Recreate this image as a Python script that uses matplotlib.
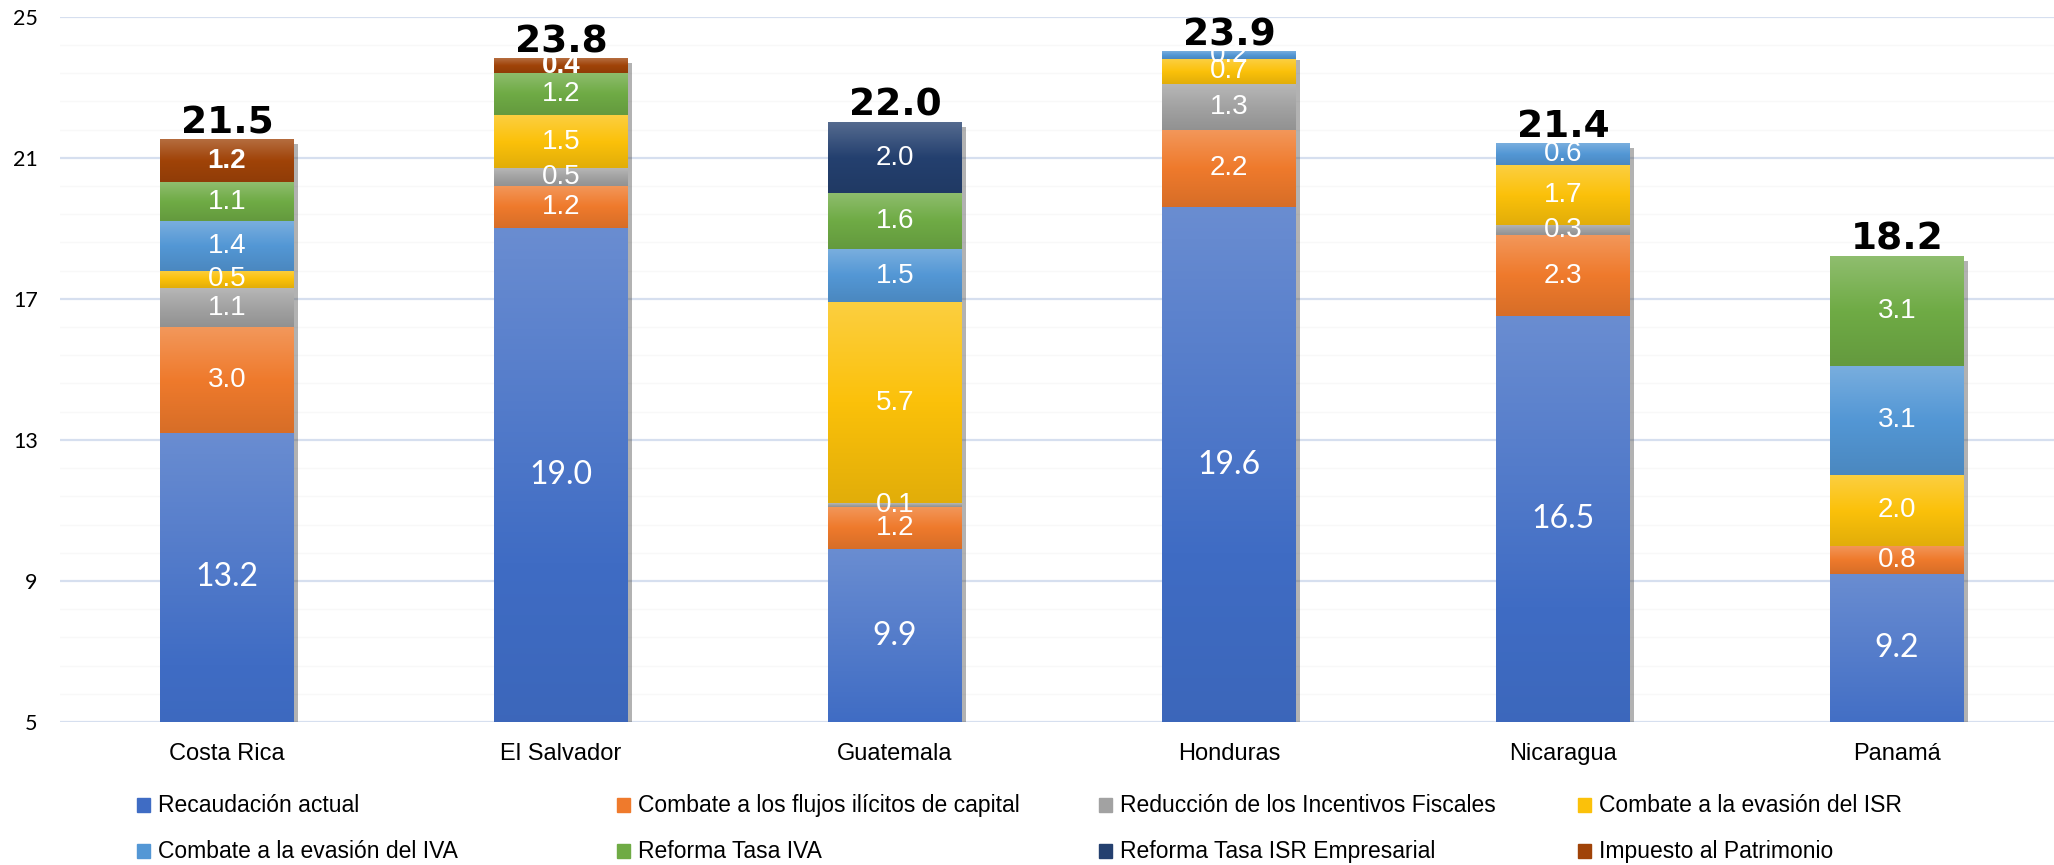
import numpy as np
import matplotlib
matplotlib.use("Agg")
import matplotlib.pyplot as plt
from matplotlib.colors import LinearSegmentedColormap, to_rgb
from matplotlib.patches import Rectangle
import matplotlib.patheffects as pe

# datos (% del PIB)
paises = ["Costa Rica", "El Salvador", "Guatemala", "Honduras", "Nicaragua", "Panamá"]
recaudacion = [13.2, 19.0, 9.9, 19.6, 16.5, 9.2]
flujos_ilicitos = [3.0, 1.2, 1.2, 2.2, 2.3, 0.8]
incentivos = [1.1, 0.5, 0.1, 1.3, 0.3, 0.0]
evasion_isr = [0.5, 1.5, 5.7, 0.7, 1.7, 2.0]
evasion_iva = [1.4, 0.0, 1.5, 0.2, 0.6, 3.1]
tasa_iva = [1.1, 1.2, 1.6, 0.0, 0.0, 3.1]
isr_empresarial = [0.0, 0.0, 2.0, 0.0, 0.0, 0.0]
patrimonio = [1.2, 0.4, 0.0, 0.0, 0.0, 0.0]
totales = [21.5, 23.8, 22.0, 23.9, 21.4, 18.2]

series = [
    ("Recaudación actual", recaudacion, "#3f6cc4"),
    ("Combate a los flujos ilícitos de capital", flujos_ilicitos, "#ef7a2c"),
    ("Reducción de los Incentivos Fiscales", incentivos, "#a2a2a2"),
    ("Combate a la evasión del ISR", evasion_isr, "#fbc10a"),
    ("Combate a la evasión del IVA", evasion_iva, "#5397d5"),
    ("Reforma Tasa IVA", tasa_iva, "#6fab45"),
    ("Reforma Tasa ISR Empresarial", isr_empresarial, "#24406f"),
    ("Impuesto al Patrimonio", patrimonio, "#a04308"),
]

Y0, Y1 = 5, 25
W, H = 2054, 865

fig = plt.figure(figsize=(W / 100, H / 100), dpi=100)
ax = fig.add_axes([60 / W, 1 - 722 / H, 1 - 60 / W, (722 - 16.7) / H])

x = np.arange(len(paises))
width = 0.40


def grad_cmap(c):
    r = np.array(to_rgb(c))
    top = r + (1 - r) * 0.22
    bot = r * 0.90
    return LinearSegmentedColormap.from_list("g", [bot, r, top])


# sombra detras de cada barra
ax.bar(x, totales, width, color="white", zorder=1.5,
       path_effects=[pe.SimplePatchShadow(offset=(3, -3), shadow_rgbFace="#555555", alpha=0.45),
                     pe.Normal()])

bottom = np.zeros(len(paises))
for i, (nombre, vals, col) in enumerate(series):
    vals = np.asarray(vals)
    bars = ax.bar(x, vals, width, bottom=bottom, color=col, zorder=2, linewidth=0)
    cmap = grad_cmap(col)
    for b, v in zip(bars, vals):
        if v <= 0:
            continue
        x0, y0 = b.get_x(), b.get_y()
        ax.imshow(np.linspace(0, 1, 64).reshape(-1, 1), cmap=cmap, origin="lower",
                  extent=[x0, x0 + b.get_width(), y0, y0 + b.get_height()],
                  aspect="auto", zorder=2.1, interpolation="bilinear")
    for xi, b0, v in zip(x, bottom, vals):
        if v <= 0:
            continue
        yc = (max(b0, Y0) + b0 + v) / 2
        if i == 0:
            ax.text(xi, yc, f"{v:.1f}", ha="center", va="center", color="white",
                    fontsize=23, family="Lato", zorder=5)
        else:
            ax.text(xi, yc, f"{v:.1f}", ha="center", va="center", color="white",
                    fontsize=20, family="Liberation Sans", zorder=5,
                    fontweight="bold" if i == 7 else "normal")
    bottom = bottom + vals

for xi, t in zip(x, totales):
    ax.annotate(f"{t:.1f}", (xi, bottom[xi]), xytext=(0, 5), textcoords="offset points",
                ha="center", va="baseline", fontsize=27, fontweight="bold",
                family="DejaVu Sans", zorder=6)

ax.set_ylim(Y0, Y1)
ax.set_xlim(-0.5, (W - 227) / 334)
ax.set_yticks(np.arange(5, 26, 4))
ax.set_yticks(np.arange(5, 25, 0.8), minor=True)
ax.grid(axis="y", which="major", color="#d6dfef", linewidth=1.6, zorder=0)
ax.grid(axis="y", which="minor", color="#f8f8f8", linewidth=1.0, zorder=0)
ax.set_axisbelow(True)
ax.set_xticks(x)
ax.set_xticklabels(paises, fontsize=17, family="Liberation Sans")
for lab in ax.get_yticklabels():
    lab.set_family("Lato")
    lab.set_fontsize(15.5)
ax.tick_params(axis="x", length=0, pad=15)
ax.tick_params(axis="y", which="both", length=0, pad=16)
for s in ax.spines.values():
    s.set_visible(False)

# leyenda manual en 2 filas x 4 columnas
col_x = [158, 638, 1120, 1599]
row_base = [812, 858]
for i, (nombre, vals, col) in enumerate(series):
    tx = col_x[i % 4]
    by = row_base[i // 4]
    fig.patches.append(Rectangle(((tx - 21) / W, 1 - by / H), 13 / W, 14 / H,
                                 transform=fig.transFigure, color=col))
    fig.text(tx / W, 1 - by / H, nombre, fontsize=16.5, family="Liberation Sans",
             ha="left", va="baseline")

fig.savefig("out.png", dpi=100)
